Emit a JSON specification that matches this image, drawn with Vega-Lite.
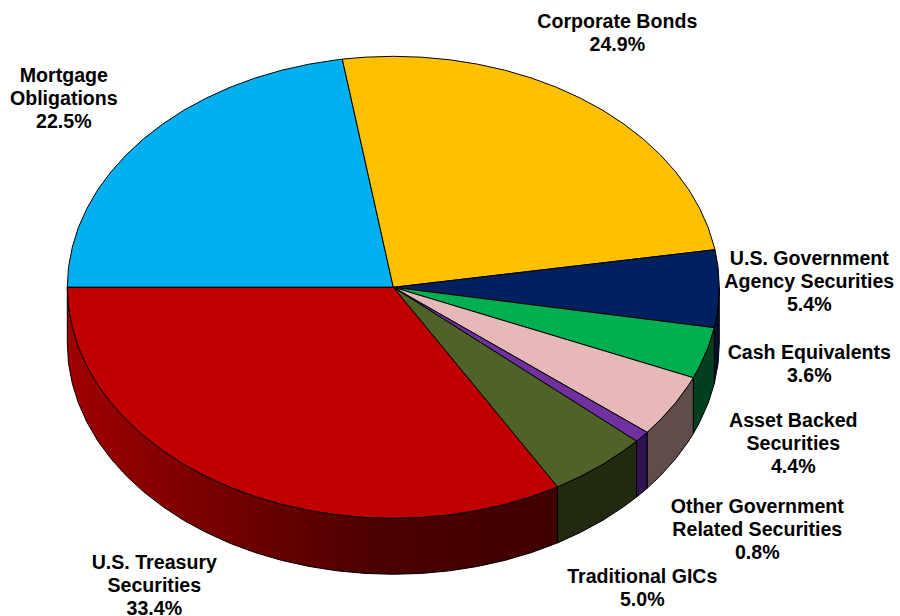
{"$schema":"https://vega.github.io/schema/vega-lite/v6.json","width":900,"height":616,"padding":0,"autosize":{"type":"none"},"background":"white","config":{"view":{"stroke":null}},"projection":{"type":"identity","reflectY":true,"scale":1,"translate":[393.3,287.3]},"resolve":{"scale":{"color":"independent"}},"layer":[{"data":{"values":[{"type":"Feature","properties":{"name":"U.S. Government Agency Securities"},"geometry":{"type":"Polygon","coordinates":[[[326,0],[324.8,-20.1],[321,-40.4],[321,-96.4],[324.8,-76.1],[326,-56],[326,0]]]}},{"type":"Feature","properties":{"name":"Cash Equivalents"},"geometry":{"type":"Polygon","coordinates":[[[321,-40.4],[314.9,-59.8],[306.3,-79],[300,-90.4],[300,-146.4],[306.3,-135],[314.9,-115.8],[321,-96.4],[321,-40.4]]]}},{"type":"Feature","properties":{"name":"Asset Backed Securities"},"geometry":{"type":"Polygon","coordinates":[[[300,-90.4],[295.5,-97.6],[282.3,-115.5],[267,-132.5],[253.8,-145],[253.8,-201],[267,-188.5],[282.3,-171.5],[295.5,-153.6],[300,-146.4],[300,-90.4]]]}},{"type":"Feature","properties":{"name":"Other Government Related Securities"},"geometry":{"type":"Polygon","coordinates":[[[253.8,-145],[249.7,-148.5],[243.2,-153.8],[243.2,-209.8],[249.7,-204.5],[253.8,-201],[253.8,-145]]]}},{"type":"Feature","properties":{"name":"Traditional GICs"},"geometry":{"type":"Polygon","coordinates":[[[243.2,-153.8],[230.5,-163.3],[209.6,-177],[187,-189.2],[164.2,-199.6],[164.2,-255.6],[187,-245.2],[209.6,-233],[230.5,-219.3],[243.2,-209.8],[243.2,-153.8]]]}}]},"mark":{"type":"geoshape","stroke":"#000000","strokeWidth":1},"encoding":{"color":{"field":"properties.name","type":"nominal","legend":null,"scale":{"domain":["U.S. Government Agency Securities","Cash Equivalents","Asset Backed Securities","Other Government Related Securities","Traditional GICs"],"range":["#001030","#004020","#5f4c4b","#2d1350","#202a10"]}}}},{"data":{"values":[{"type":"Feature","properties":{"name":"U.S. Treasury Securities"},"geometry":{"type":"Polygon","coordinates":[[[164.2,-199.6],[137.8,-209.4],[111.5,-217.1],[84.4,-223.1],[56.6,-227.5],[28.4,-230.1],[0,-231],[-28.4,-230.1],[-56.6,-227.5],[-84.4,-223.1],[-111.5,-217.1],[-137.8,-209.4],[-163,-200.1],[-187,-189.2],[-209.6,-177],[-230.5,-163.3],[-249.7,-148.5],[-267,-132.5],[-282.3,-115.5],[-295.5,-97.6],[-306.3,-79],[-314.9,-59.8],[-321,-40.1],[-324.8,-20.1],[-326,0],[-326,-56],[-324.8,-76.1],[-321,-96.1],[-314.9,-115.8],[-306.3,-135],[-295.5,-153.6],[-282.3,-171.5],[-267,-188.5],[-249.7,-204.5],[-230.5,-219.3],[-209.6,-233],[-187,-245.2],[-163,-256.1],[-137.8,-265.4],[-111.5,-273.1],[-84.4,-279.1],[-56.6,-283.5],[-28.4,-286.1],[0,-287],[28.4,-286.1],[56.6,-283.5],[84.4,-279.1],[111.5,-273.1],[137.8,-265.4],[164.2,-255.6],[164.2,-199.6]]]}}]},"mark":{"type":"geoshape","stroke":"#000000","strokeWidth":1,"fill":{"gradient":"linear","x1":0,"y1":0,"x2":1,"y2":0,"stops":[{"offset":0,"color":"#a00000"},{"offset":0.17,"color":"#880000"},{"offset":0.44,"color":"#640000"},{"offset":0.64,"color":"#4c0000"},{"offset":1,"color":"#400000"}]}}},{"data":{"values":[{"type":"Feature","properties":{"name":"Mortgage Obligations","share":22.5},"geometry":{"type":"Polygon","coordinates":[[[0,0],[-326,0],[-324.8,20.1],[-321,40.1],[-314.9,59.8],[-306.3,79],[-295.5,97.6],[-282.3,115.5],[-267,132.5],[-249.7,148.5],[-230.5,163.3],[-209.6,177],[-187,189.2],[-163,200.1],[-137.8,209.4],[-111.5,217.1],[-84.4,223.1],[-56.6,227.5],[-51,228.2],[0,0]]]}},{"type":"Feature","properties":{"name":"Corporate Bonds","share":24.9},"geometry":{"type":"Polygon","coordinates":[[[0,0],[-51,228.2],[-28.4,230.1],[0,231],[28.4,230.1],[56.6,227.5],[84.4,223.1],[111.5,217.1],[137.8,209.4],[163,200.1],[187,189.2],[209.6,177],[230.5,163.3],[249.7,148.5],[267,132.5],[282.3,115.5],[295.5,97.6],[306.3,79],[314.9,59.8],[321,40.1],[321.7,37.6],[0,0]]]}},{"type":"Feature","properties":{"name":"U.S. Government Agency Securities","share":5.4},"geometry":{"type":"Polygon","coordinates":[[[0,0],[321.7,37.6],[324.8,20.1],[326,0],[324.8,-20.1],[321,-40.4],[0,0]]]}},{"type":"Feature","properties":{"name":"Cash Equivalents","share":3.6},"geometry":{"type":"Polygon","coordinates":[[[0,0],[321,-40.4],[314.9,-59.8],[306.3,-79],[300,-90.4],[0,0]]]}},{"type":"Feature","properties":{"name":"Asset Backed Securities","share":4.4},"geometry":{"type":"Polygon","coordinates":[[[0,0],[300,-90.4],[295.5,-97.6],[282.3,-115.5],[267,-132.5],[253.8,-145],[0,0]]]}},{"type":"Feature","properties":{"name":"Other Government Related Securities","share":0.8},"geometry":{"type":"Polygon","coordinates":[[[0,0],[253.8,-145],[249.7,-148.5],[243.2,-153.8],[0,0]]]}},{"type":"Feature","properties":{"name":"Traditional GICs","share":5.0},"geometry":{"type":"Polygon","coordinates":[[[0,0],[243.2,-153.8],[230.5,-163.3],[209.6,-177],[187,-189.2],[164.2,-199.6],[0,0]]]}},{"type":"Feature","properties":{"name":"U.S. Treasury Securities","share":33.4},"geometry":{"type":"Polygon","coordinates":[[[0,0],[164.2,-199.6],[137.8,-209.4],[111.5,-217.1],[84.4,-223.1],[56.6,-227.5],[28.4,-230.1],[0,-231],[-28.4,-230.1],[-56.6,-227.5],[-84.4,-223.1],[-111.5,-217.1],[-137.8,-209.4],[-163,-200.1],[-187,-189.2],[-209.6,-177],[-230.5,-163.3],[-249.7,-148.5],[-267,-132.5],[-282.3,-115.5],[-295.5,-97.6],[-306.3,-79],[-314.9,-59.8],[-321,-40.1],[-324.8,-20.1],[-326,0],[0,0]]]}}]},"mark":{"type":"geoshape","stroke":"#000000","strokeWidth":1},"encoding":{"color":{"field":"properties.name","type":"nominal","legend":null,"scale":{"domain":["Mortgage Obligations","Corporate Bonds","U.S. Government Agency Securities","Cash Equivalents","Asset Backed Securities","Other Government Related Securities","Traditional GICs","U.S. Treasury Securities"],"range":["#00b0f0","#ffc000","#002060","#00b050","#e6b9b8","#7030a0","#4f6228","#c00000"]}}}},{"data":{"values":[{"label":"Corporate Bonds\n24.9%","lon":224,"lat":274.5},{"label":"Mortgage\nObligations\n22.5%","lon":-329.5,"lat":220.5},{"label":"U.S. Government\nAgency Securities\n5.4%","lon":416,"lat":37.5},{"label":"Cash Equivalents\n3.6%","lon":416,"lat":-56.5},{"label":"Asset Backed\nSecurities\n4.4%","lon":400,"lat":-124.5},{"label":"Other Government\nRelated Securities\n0.8%","lon":364,"lat":-210.5},{"label":"Traditional GICs\n5.0%","lon":249,"lat":-280.5},{"label":"U.S. Treasury\nSecurities\n33.4%","lon":-239,"lat":-266.5}]},"mark":{"type":"text","align":"center","baseline":"top","lineBreak":"\n","lineHeight":23,"font":"Liberation Sans","fontWeight":"bold","fontSize":19.6,"color":"#000000"},"encoding":{"longitude":{"field":"lon","type":"quantitative"},"latitude":{"field":"lat","type":"quantitative"},"text":{"field":"label","type":"nominal"}}}]}
